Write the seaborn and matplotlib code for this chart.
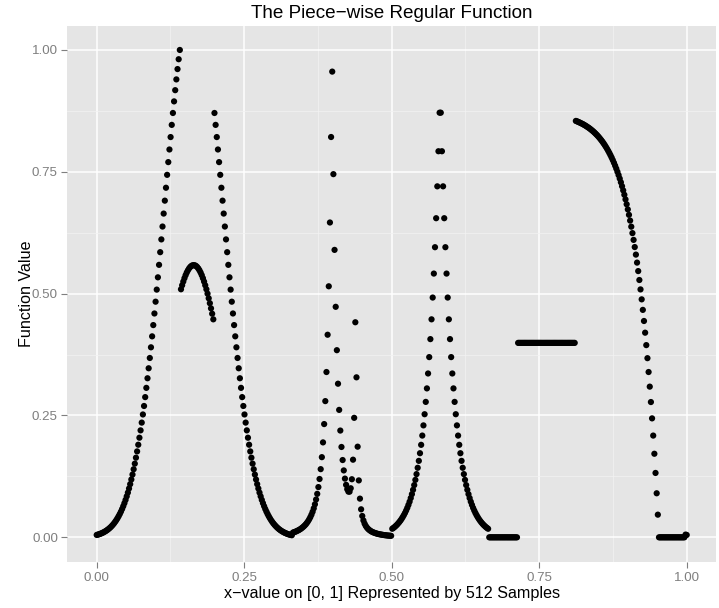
import numpy as np
import pandas as pd
import matplotlib
matplotlib.use("Agg")
import matplotlib.pyplot as plt
import seaborn as sns
from matplotlib.ticker import FixedLocator, FormatStrFormatter

# ---- data: 512 samples of the piece-wise regular function ----
gauss_left = [
    0.0049, 0.0056, 0.0063, 0.0072, 0.0081, 0.0092, 0.0104, 0.0117, 0.0132, 0.0148,
    0.0166, 0.0186, 0.0207, 0.0232, 0.0258, 0.0287, 0.0319, 0.0354, 0.0392, 0.0434,
    0.0479, 0.0528, 0.0581, 0.0639, 0.0701, 0.0768, 0.0841, 0.0918, 0.1002, 0.1091,
    0.1187, 0.1288, 0.1397, 0.1512, 0.1634, 0.1763, 0.1900, 0.2044, 0.2195, 0.2354,
    0.2521, 0.2695, 0.2877, 0.3067, 0.3264, 0.3469, 0.3680, 0.3899, 0.4124, 0.4355,
    0.4593, 0.4835, 0.5083, 0.5335, 0.5591, 0.5851, 0.6113, 0.6377, 0.6643, 0.6908,
    0.7173, 0.7438, 0.7699, 0.7958, 0.8213, 0.8463, 0.8707, 0.8945, 0.9175, 0.9396,
    0.9608, 0.9810, 1.0000,
]
gauss_peak = [
    0.5090, 0.5172, 0.5248, 0.5317, 0.5379, 0.5433, 0.5479, 0.5517, 0.5547, 0.5569,
    0.5581, 0.5585, 0.5581, 0.5569, 0.5547, 0.5517, 0.5479, 0.5433, 0.5379, 0.5317,
    0.5248, 0.5172, 0.5090, 0.5000, 0.4905, 0.4804, 0.4698, 0.4588, 0.4473,
]
gauss_right = [
    0.8707, 0.8463, 0.8213, 0.7958, 0.7699, 0.7438, 0.7173, 0.6908, 0.6643, 0.6377,
    0.6113, 0.5851, 0.5591, 0.5335, 0.5083, 0.4835, 0.4593, 0.4355, 0.4124, 0.3899,
    0.3680, 0.3469, 0.3264, 0.3067, 0.2877, 0.2695, 0.2521, 0.2354, 0.2195, 0.2044,
    0.1900, 0.1763, 0.1634, 0.1512, 0.1397, 0.1288, 0.1187, 0.1091, 0.1002, 0.0918,
    0.0841, 0.0768, 0.0701, 0.0639, 0.0581, 0.0528, 0.0479, 0.0434, 0.0392, 0.0354,
    0.0319, 0.0287, 0.0258, 0.0232, 0.0207, 0.0186, 0.0166, 0.0148, 0.0132, 0.0117,
    0.0104, 0.0092, 0.0081, 0.0072, 0.0063, 0.0056, 0.0049, 0.0043,
]
bumps = [
    0.0098, 0.0106, 0.0115, 0.0125, 0.0137, 0.0149, 0.0163, 0.0179, 0.0197, 0.0217,
    0.0240, 0.0265, 0.0295, 0.0329, 0.0368, 0.0413, 0.0465, 0.0525, 0.0595, 0.0678,
    0.0776, 0.0892, 0.1031, 0.1197, 0.1399, 0.1645, 0.1948, 0.2324, 0.2795, 0.3392,
    0.4157, 0.5151, 0.6460, 0.8214, 0.9556, 0.7452, 0.5898, 0.4730, 0.3840, 0.3152,
    0.2615, 0.2191, 0.1854, 0.1586, 0.1373, 0.1205, 0.1077, 0.0987, 0.0938, 0.0937,
    0.1007, 0.1192, 0.1593, 0.2452, 0.4413, 0.3283, 0.1860, 0.1168, 0.0794, 0.0575,
    0.0438, 0.0347, 0.0283, 0.0236, 0.0201, 0.0174, 0.0153, 0.0135, 0.0120, 0.0108,
    0.0098, 0.0089, 0.0081, 0.0074, 0.0068, 0.0063, 0.0058, 0.0054, 0.0050, 0.0046,
    0.0043, 0.0040, 0.0037, 0.0035, 0.0033, 0.0031,
]
exp_rise = [
    0.0176, 0.0193, 0.0212, 0.0234, 0.0257, 0.0283, 0.0311, 0.0342, 0.0376, 0.0414,
    0.0455, 0.0500, 0.0550, 0.0605, 0.0666, 0.0732, 0.0806, 0.0886, 0.0975, 0.1072,
    0.1179, 0.1297, 0.1427, 0.1569, 0.1726, 0.1898, 0.2088, 0.2297, 0.2526, 0.2779,
    0.3056, 0.3362, 0.3698, 0.4067, 0.4473, 0.4920, 0.5412, 0.5953, 0.6548, 0.7202,
    0.7922, 0.8713,
]
exp_fall = [
    0.8713, 0.7922, 0.7202, 0.6548, 0.5953, 0.5412, 0.4920, 0.4473, 0.4067, 0.3698,
    0.3362, 0.3056, 0.2779, 0.2526, 0.2297, 0.2088, 0.1898, 0.1726, 0.1569, 0.1427,
    0.1297, 0.1179, 0.1072, 0.0975, 0.0886, 0.0806, 0.0732, 0.0666, 0.0605, 0.0550,
    0.0500, 0.0455, 0.0414, 0.0376, 0.0342, 0.0311, 0.0283, 0.0257, 0.0234, 0.0212,
    0.0193, 0.0176,
]
gap_zeros = [0.0] * 25
plateau = [0.399] * 50
decay = [
    0.8544, 0.8535, 0.8525, 0.8514, 0.8503, 0.8491, 0.8479, 0.8466, 0.8452, 0.8437,
    0.8421, 0.8405, 0.8388, 0.8369, 0.8350, 0.8330, 0.8308, 0.8285, 0.8261, 0.8236,
    0.8209, 0.8180, 0.8150, 0.8119, 0.8085, 0.8050, 0.8012, 0.7973, 0.7931, 0.7887,
    0.7841, 0.7792, 0.7740, 0.7685, 0.7627, 0.7566, 0.7501, 0.7433, 0.7361, 0.7285,
    0.7204, 0.7119, 0.7029, 0.6934, 0.6834, 0.6728, 0.6617, 0.6499, 0.6374, 0.6242,
    0.6103, 0.5956, 0.5801, 0.5637, 0.5463, 0.5280, 0.5087, 0.4883, 0.4667, 0.4439,
    0.4199, 0.3944, 0.3676, 0.3392, 0.3092, 0.2776, 0.2441, 0.2088, 0.1715, 0.1321,
    0.0904, 0.0465, 0.0,
]
end_zeros = [0.0] * 22
tail = [0.0056, 0.0049]

x_ticks = [0.0, 0.25, 0.5, 0.75, 1.0]
y_ticks = [0.0, 0.25, 0.5, 0.75, 1.0]
title = "The Piece\u2212wise Regular Function"
x_title = "x\u2212value on [0, 1] Represented by 512 Samples"
y_title = "Function Value"

values = (gauss_left + gauss_peak + gauss_right + bumps + exp_rise + exp_fall
          + gap_zeros + plateau + decay + end_zeros + tail)
n_samples = len(values)
df = pd.DataFrame({"x": np.linspace(0.0, 1.0, n_samples), "y": values})

# ---- style ----
plt.rcParams["font.family"] = ["Liberation Sans", "DejaVu Sans"]
grey_txt = "#7F7F7F"

fig = plt.figure(figsize=(7.19, 6.08), dpi=100)
W, H = 719.0, 608.0
pl, pr, pt, pb = 67.2, 716.2, 25.6, 561.7
ax = fig.add_axes([pl / W, 1 - pb / H, (pr - pl) / W, (pb - pt) / H])
ax.set_facecolor("#E5E5E5")
for s in ax.spines.values():
    s.set_visible(False)

sns.scatterplot(data=df, x="x", y="y", color="black", s=20, linewidth=0,
                edgecolor="none", ax=ax, zorder=3)

ax.set_xlim(-0.05, 1.05)
ax.set_ylim(-0.05, 1.05)
ax.xaxis.set_major_locator(FixedLocator(x_ticks))
ax.yaxis.set_major_locator(FixedLocator(y_ticks))
ax.xaxis.set_minor_locator(FixedLocator([0.125, 0.375, 0.625, 0.875]))
ax.yaxis.set_minor_locator(FixedLocator([0.125, 0.375, 0.625, 0.875]))
ax.xaxis.set_major_formatter(FormatStrFormatter("%.2f"))
ax.yaxis.set_major_formatter(FormatStrFormatter("%.2f"))
ax.set_axisbelow(True)
ax.grid(which="major", color="white", linewidth=1.1)
ax.grid(which="minor", color="#F2F2F2", linewidth=0.55)

ax.tick_params(which="major", length=4.3, width=0.8, color=grey_txt,
               labelcolor=grey_txt, labelsize=9.6)
ax.tick_params(axis="y", which="major", pad=2.4)
ax.tick_params(axis="x", which="major", pad=3.0)
ax.tick_params(which="minor", length=0)

ax.set_xlabel(x_title, fontsize=11.6, color="black")
ax.set_ylabel(y_title, fontsize=11.6, color="black")
ax.xaxis.label.set_va("center")
ax.yaxis.label.set_va("center")
ax.xaxis.set_label_coords(0.5, (pb - 593.5) / (pb - pt))
ax.yaxis.set_label_coords((26.5 - pl) / (pr - pl), 0.5)

ax.text(0.5, (pb - 13.0) / (pb - pt), title, transform=ax.transAxes,
        ha="center", va="center", fontsize=13.6, color="black")

fig.savefig("out.png", dpi=100)
